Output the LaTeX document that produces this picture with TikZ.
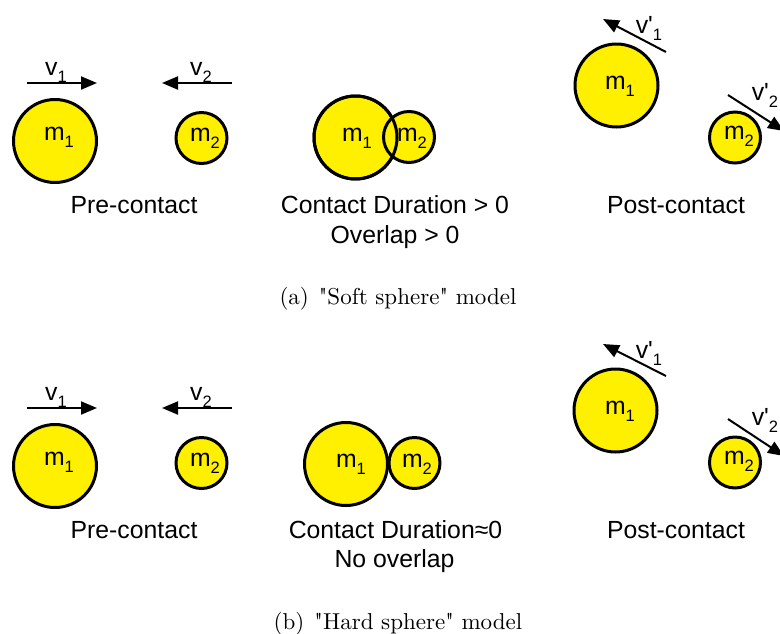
\documentclass[tikz,border=0pt]{standalone}
\usepackage{fontspec}
\newfontfamily\arial{Liberation Sans}
\newfontfamily\lmcap{lmroman10-regular.otf}
\usetikzlibrary{arrows.meta}
\definecolor{ballyellow}{RGB}{255,240,0}
\newcommand\sbs[1]{\raisebox{-7pt}{\fontsize{16.5}{16.5}\selectfont #1}}
\begin{document}
\begin{tikzpicture}[x=1pt,y=-1pt,
  ball/.style={circle,draw=black,line width=3pt,fill=ballyellow,inner sep=0pt},
  big/.style={ball,minimum size=83pt},
  small/.style={ball,minimum size=51pt},
  outline/.style={draw=black,line width=3pt},
  lab/.style={font=\arial\fontsize{24.8}{28}\selectfont,anchor=base,inner sep=0pt},
  vec/.style={line width=2pt,-{Triangle[length=16pt,width=13pt]}},
  capt/.style={font=\lmcap\fontsize{23}{27}\selectfont,anchor=base,inner sep=0pt}]
\clip (0,0) rectangle (780,633);
\fill[white] (0,0) rectangle (780,633);

% ===== (a) soft sphere =====
% pre-contact
\node[big]   (a1) at (55,141) {};
\node[small] (a2) at (201.5,138) {};
\node[lab] (a1t) at (59,140) {m\sbs{1}};
\node[lab] (a2t) at (205,141) {m\sbs{2}};
\coordinate (av1s) at (27,83);  \coordinate (av1e) at (97,83);
\coordinate (av2s) at (232,83); \coordinate (av2e) at (162,83);
\draw[vec] (av1s) -- (av1e);
\draw[vec] (av2s) -- (av2e);
\node[lab] (av1t) at (56,75) {v\sbs{1}};
\node[lab] (av2t) at (201,75) {v\sbs{2}};
\node[lab] (apre) at (134,213) {Pre-contact};
% contact
\node[big]   (ac1) at (355.5,137.5) {};
\node[small] (ac2) at (409,137) {};
\draw[outline] (ac1.center) circle[radius=41.5pt];
\node[lab] (ac1t) at (357,141) {m\sbs{1}};
\node[lab] (ac2t) at (412,141) {m\sbs{2}};
\node[lab] (acl1) at (395,213) {Contact Duration > 0};
\node[lab] (acl2) at (395,243) {Overlap > 0};
% post-contact
\node[big]   (ap1) at (616.5,85.5) {};
\node[small] (ap2) at (735,137.5) {};
\node[lab] (ap1t) at (620,89) {m\sbs{1}};
\node[lab] (ap2t) at (739,139) {m\sbs{2}};
\coordinate (apv1s) at (666,52);  \coordinate (apv1e) at (603,19);
\coordinate (apv2s) at (728,95);  \coordinate (apv2e) at (784,131);
\draw[vec] (apv1s) -- (apv1e);
\draw[vec] (apv2s) -- (apv2e);
\node[lab] (apv1t) at (649,33) {v'\sbs{1}};
\node[lab] (apv2t) at (765,100) {v'\sbs{2}};
\node[lab] (apost) at (676,213) {Post-contact};
\node[capt] (capa) at (398,304) {(a)\hspace{10pt}"Soft sphere" model};

% ===== (b) hard sphere =====
\node[big]   (b1) at (55,466) {};
\node[small] (b2) at (201.5,463) {};
\node[lab] (b1t) at (59,465) {m\sbs{1}};
\node[lab] (b2t) at (205,466) {m\sbs{2}};
\coordinate (bv1s) at (27,408);  \coordinate (bv1e) at (97,408);
\coordinate (bv2s) at (232,408); \coordinate (bv2e) at (162,408);
\draw[vec] (bv1s) -- (bv1e);
\draw[vec] (bv2s) -- (bv2e);
\node[lab] (bv1t) at (56,400) {v\sbs{1}};
\node[lab] (bv2t) at (201,400) {v\sbs{2}};
\node[lab] (bpre) at (134,538) {Pre-contact};
% contact
\node[big]   (bc1) at (346,464) {};
\node[small] (bc2) at (414.5,463) {};
\node[lab] (bc1t) at (351,467) {m\sbs{1}};
\node[lab] (bc2t) at (417,467) {m\sbs{2}};
\node[lab] (bcl1) at (395.5,538) {Contact Duration≈0};
\node[lab] (bcl2) at (394.5,567) {No overlap};
% post-contact
\node[big]   (bp1) at (615.5,410.5) {};
\node[small] (bp2) at (735,462.5) {};
\node[lab] (bp1t) at (620,414) {m\sbs{1}};
\node[lab] (bp2t) at (739,464) {m\sbs{2}};
\coordinate (bpv1s) at (666,376);  \coordinate (bpv1e) at (603,344);
\coordinate (bpv2s) at (728,419);  \coordinate (bpv2e) at (784,456);
\draw[vec] (bpv1s) -- (bpv1e);
\draw[vec] (bpv2s) -- (bpv2e);
\node[lab] (bpv1t) at (649,358) {v'\sbs{1}};
\node[lab] (bpv2t) at (765,425) {v'\sbs{2}};
\node[lab] (bpost) at (676,538) {Post-contact};
\node[capt] (capb) at (398,629) {(b)\hspace{10pt}"Hard sphere" model};
\end{tikzpicture}
\end{document}
